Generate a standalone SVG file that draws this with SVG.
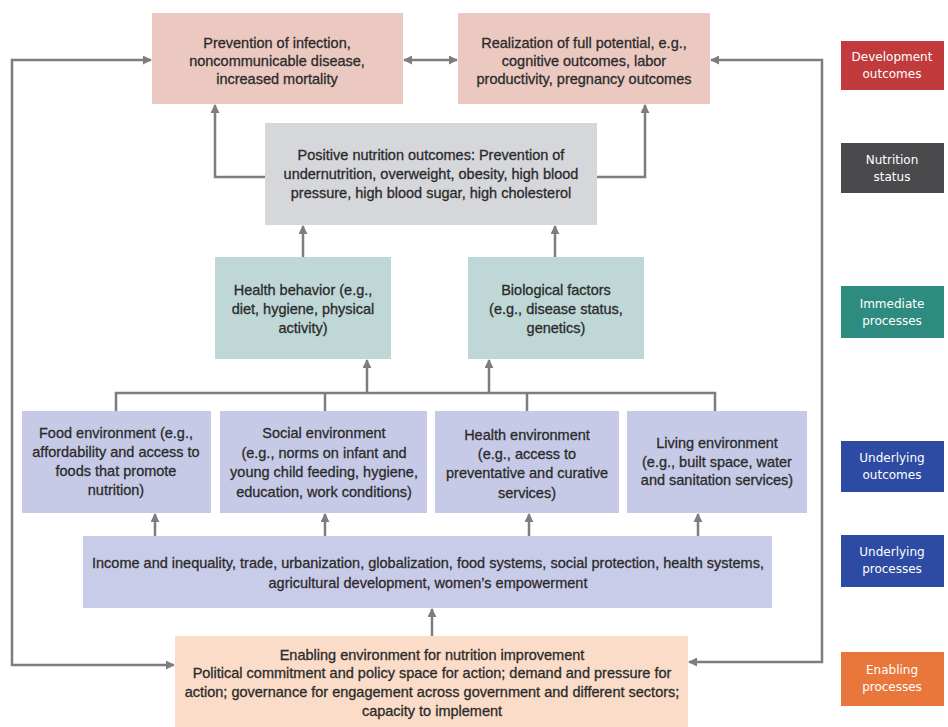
<svg xmlns="http://www.w3.org/2000/svg" width="948" height="727" viewBox="0 0 948 727">
<defs>
<marker id="ah" viewBox="0 0 10 10" refX="9" refY="5" markerWidth="9" markerHeight="9" markerUnits="userSpaceOnUse" orient="auto-start-reverse">
<path d="M0,0 L10,5 L0,10 z" fill="#7d7d7d"/>
</marker>
<style>
.t{font-family:"Liberation Sans",Arial,sans-serif;font-size:14.5px;fill:#2b2b2b;stroke:#2b2b2b;stroke-width:0.3;text-anchor:middle}
.l{font-family:"DejaVu Sans",Verdana,sans-serif;font-size:12px;fill:#ffffff;text-anchor:middle}
.c{fill:none;stroke:#7d7d7d;stroke-width:2.5}
.ca{fill:none;stroke:#7d7d7d;stroke-width:2.5;marker-end:url(#ah)}
.cb{fill:none;stroke:#7d7d7d;stroke-width:2.5;marker-start:url(#ah);marker-end:url(#ah)}
</style>
</defs>
<rect width="948" height="727" fill="#ffffff"/>

<g id="connectors">
<path class="cb" d="M404,60 L457,60"/>
<path class="cb" d="M151,60 L12,60 L12,665 L174,665"/>
<path class="cb" d="M711,60 L822,60 L822,662 L689,662"/>
<path class="ca" d="M265,177 L215,177 L215,105"/>
<path class="ca" d="M597,177 L645,177 L645,105"/>
<path class="ca" d="M303,257 L303,226"/>
<path class="ca" d="M555,257 L555,226"/>
<path class="c" d="M116,411 L116,393 L715,393 L715,411"/>
<path class="c" d="M325,393 L325,411"/>
<path class="c" d="M527,393 L527,411"/>
<path class="ca" d="M367,393 L367,360"/>
<path class="ca" d="M489,393 L489,360"/>
<path class="ca" d="M155,536 L155,514"/>
<path class="ca" d="M325,536 L325,514"/>
<path class="ca" d="M529,536 L529,514"/>
<path class="ca" d="M698,536 L698,514"/>
<path class="ca" d="M432,636 L432,609"/>
</g>

<g id="prevention">
<rect x="152" y="13" width="251" height="91" fill="#ebc9c1"/>
<text class="t" x="277" y="48">Prevention of infection,</text>
<text class="t" x="277" y="66">noncommunicable disease,</text>
<text class="t" x="277" y="84">increased mortality</text>
</g>

<g id="realization">
<rect x="458" y="13" width="252" height="91" fill="#ebc9c1"/>
<text class="t" x="584" y="48">Realization of full potential, e.g.,</text>
<text class="t" x="584" y="66">cognitive outcomes, labor</text>
<text class="t" x="584" y="84">productivity, pregnancy outcomes</text>
</g>

<g id="nutrition-outcomes">
<rect x="265" y="123" width="332" height="102" fill="#d5d7da"/>
<text class="t" x="431" y="160">Positive nutrition outcomes: Prevention of</text>
<text class="t" x="431" y="179">undernutrition, overweight, obesity, high blood</text>
<text class="t" x="431" y="198">pressure, high blood sugar, high cholesterol</text>
</g>

<g id="health-behavior">
<rect x="215" y="257" width="176" height="102" fill="#bfd7d6"/>
<text class="t" x="303" y="295">Health behavior (e.g.,</text>
<text class="t" x="303" y="314">diet, hygiene, physical</text>
<text class="t" x="303" y="333">activity)</text>
</g>

<g id="biological">
<rect x="468" y="257" width="176" height="102" fill="#bfd7d6"/>
<text class="t" x="556" y="295">Biological factors</text>
<text class="t" x="556" y="314">(e.g., disease status,</text>
<text class="t" x="556" y="333">genetics)</text>
</g>

<g id="food-env">
<rect x="22" y="411" width="189" height="102" fill="#c7cae7"/>
<text class="t" x="116" y="438">Food environment (e.g.,</text>
<text class="t" x="116" y="457">affordability and access to</text>
<text class="t" x="116" y="476">foods that promote</text>
<text class="t" x="116" y="495">nutrition)</text>
</g>

<g id="social-env">
<rect x="220" y="411" width="207" height="102" fill="#c7cae7"/>
<text class="t" x="324" y="438">Social environment</text>
<text class="t" x="324" y="458">(e.g., norms on infant and</text>
<text class="t" x="324" y="477">young child feeding, hygiene,</text>
<text class="t" x="324" y="497">education, work conditions)</text>
</g>

<g id="health-env">
<rect x="435" y="411" width="184" height="102" fill="#c7cae7"/>
<text class="t" x="527" y="440">Health environment</text>
<text class="t" x="527" y="459">(e.g., access to</text>
<text class="t" x="527" y="478">preventative and curative</text>
<text class="t" x="527" y="498">services)</text>
</g>

<g id="living-env">
<rect x="627" y="411" width="180" height="102" fill="#c7cae7"/>
<text class="t" x="717" y="448">Living environment</text>
<text class="t" x="717" y="467">(e.g., built space, water</text>
<text class="t" x="717" y="485">and sanitation services)</text>
</g>

<g id="income">
<rect x="83" y="536" width="689" height="72" fill="#c9cce9"/>
<text class="t" x="428" y="568">Income and inequality, trade, urbanization, globalization, food systems, social protection, health systems,</text>
<text class="t" x="428" y="588">agricultural development, women’s empowerment</text>
</g>

<g id="enabling">
<rect x="175" y="636" width="513" height="91" fill="#fadcc8"/>
<text class="t" x="432" y="660">Enabling environment for nutrition improvement</text>
<text class="t" x="432" y="678">Political commitment and policy space for action; demand and pressure for</text>
<text class="t" x="432" y="697">action; governance for engagement across government and different sectors;</text>
<text class="t" x="432" y="716">capacity to implement</text>
</g>

<g id="legend">
<g id="lg-development">
<rect x="841" y="41" width="103" height="49" fill="#c13a3c"/>
<text class="l" x="892" y="61">Development</text>
<text class="l" x="892" y="78">outcomes</text>
</g>
<g id="lg-nutrition">
<rect x="841" y="143" width="103" height="50" fill="#4a4a4d"/>
<text class="l" x="892" y="164">Nutrition</text>
<text class="l" x="892" y="181">status</text>
</g>
<g id="lg-immediate">
<rect x="841" y="286" width="103" height="52" fill="#2e8b80"/>
<text class="l" x="892" y="308">Immediate</text>
<text class="l" x="892" y="325">processes</text>
</g>
<g id="lg-und-outcomes">
<rect x="841" y="441" width="103" height="51" fill="#2d4ba2"/>
<text class="l" x="892" y="462">Underlying</text>
<text class="l" x="892" y="479">outcomes</text>
</g>
<g id="lg-und-processes">
<rect x="841" y="535" width="103" height="52" fill="#2d4ba2"/>
<text class="l" x="892" y="556">Underlying</text>
<text class="l" x="892" y="573">processes</text>
</g>
<g id="lg-enabling">
<rect x="841" y="652" width="103" height="54" fill="#e9773b"/>
<text class="l" x="892" y="674">Enabling</text>
<text class="l" x="892" y="691">processes</text>
</g>
</g>
</svg>
